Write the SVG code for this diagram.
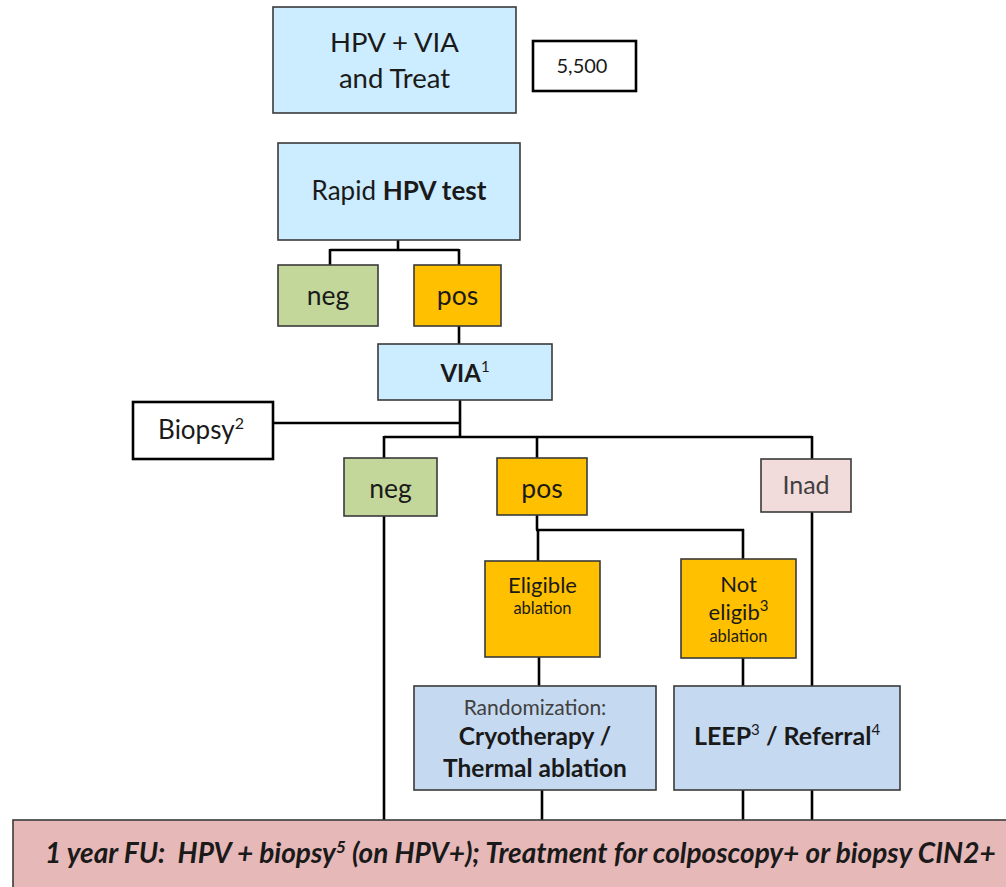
<svg xmlns="http://www.w3.org/2000/svg" width="1006" height="887" viewBox="0 0 1006 887">
<style>
text{font-family:Lato,"Liberation Sans",sans-serif;fill:#1a1a1a;text-anchor:middle}
.box{stroke:#3a3a3a;stroke-width:1.6}
.blk{fill:#fff;stroke:#000;stroke-width:2.6}
.lb{fill:#ccecff}.gr{fill:#c4d79b}.or{fill:#ffc000}.pk{fill:#f2dcdb}.bl{fill:#c5d9f1}.fu{fill:#e6b8b7}
.b{font-weight:bold}
.g{fill:#404040}
#connectors path{fill:none;stroke:#000;stroke-width:2.6}
</style>
<rect width="1006" height="887" fill="#fff"/>
<g id="connectors">
<path d="M398 240V250M330 250H459M330 249V265M459 249V265"/>
<path d="M459 326V344"/>
<path d="M460 400V437M273 423H460"/>
<path d="M384 437H812M384 436V458M537 436V458M812 436V459"/>
<path d="M384 516V820M812 512V820"/>
<path d="M537 515V530M536 530H744M538 530V561M743 529V559"/>
<path d="M539 657V686M743 658V686"/>
<path d="M542 790V820M743 790V820"/>
</g>
<g id="n-start"><rect class="box lb" x="273" y="7" width="243" height="106"/><text x="394.5" y="52" font-size="27.5">HPV + VIA</text><text x="394.5" y="88" font-size="27.5">and Treat</text></g>
<g id="n-count"><rect class="blk" x="533" y="41" width="103" height="50"/><text x="582" y="73" font-size="20">5,500</text></g>
<g id="n-hpv"><rect class="box lb" x="278" y="143" width="242" height="97"/><text x="399" y="200" font-size="26">Rapid <tspan class="b">HPV test</tspan></text></g>
<g id="n-neg1"><rect class="box gr" x="278" y="265" width="100" height="61"/><text x="328" y="305" font-size="26.5">neg</text></g>
<g id="n-pos1"><rect class="box or" x="414" y="265" width="87" height="61"/><text x="457.5" y="305" font-size="26.5">pos</text></g>
<g id="n-via"><rect class="box lb" x="378" y="344" width="174" height="56"/><text x="465" y="382" font-size="24"><tspan class="b">VIA</tspan><tspan font-size="15" dy="-10">1</tspan></text></g>
<g id="n-biopsy"><rect class="blk" x="133" y="402" width="140" height="57"/><text x="201" y="439" font-size="26">Biopsy<tspan font-size="16" dy="-10">2</tspan></text></g>
<g id="n-neg2"><rect class="box gr" x="344" y="458" width="93" height="58"/><text x="390.5" y="498" font-size="26.5">neg</text></g>
<g id="n-pos2"><rect class="box or" x="497" y="458" width="90" height="57"/><text x="542" y="498" font-size="26.5">pos</text></g>
<g id="n-inad"><rect class="box pk" x="761" y="459" width="90" height="53"/><text class="g" x="806" y="494" font-size="25">Inad</text></g>
<g id="n-elig"><rect class="box or" x="485" y="561" width="115" height="96"/><text x="542.5" y="593" font-size="22">Eligible</text><text x="542.5" y="614" font-size="16.5">ablation</text></g>
<g id="n-notelig"><rect class="box or" x="681" y="559" width="115" height="99"/><text x="738.5" y="592" font-size="22">Not</text><text x="738.5" y="620" font-size="22">eligib<tspan font-size="15" dy="-9">3</tspan></text><text x="738.5" y="642" font-size="16.5">ablation</text></g>
<g id="n-rand"><rect class="box bl" x="414" y="686" width="242" height="104"/><text class="g" x="535" y="715" font-size="21">Randomization:</text><text class="b" x="535" y="745" font-size="24.5">Cryotherapy /</text><text class="b" x="535" y="777" font-size="24.5">Thermal ablation</text></g>
<g id="n-leep"><rect class="box bl" x="674" y="686" width="226" height="104"/><text x="787" y="745" font-size="25"><tspan class="b">LEEP</tspan><tspan font-size="15" dy="-10">3</tspan><tspan class="b" dy="10"> / Referral</tspan><tspan font-size="15" dy="-10">4</tspan></text></g>
<g id="n-fu"><rect class="box fu" x="13" y="820" width="1000" height="80"/><text x="45" y="863" font-size="28" font-weight="bold" font-style="italic" style="text-anchor:start;white-space:pre">1 year FU:  HPV + biopsy<tspan font-size="17" dy="-10">5</tspan><tspan dy="10"> (on HPV+); Treatment for colposcopy+ or biopsy CIN2+</tspan></text></g>
</svg>
